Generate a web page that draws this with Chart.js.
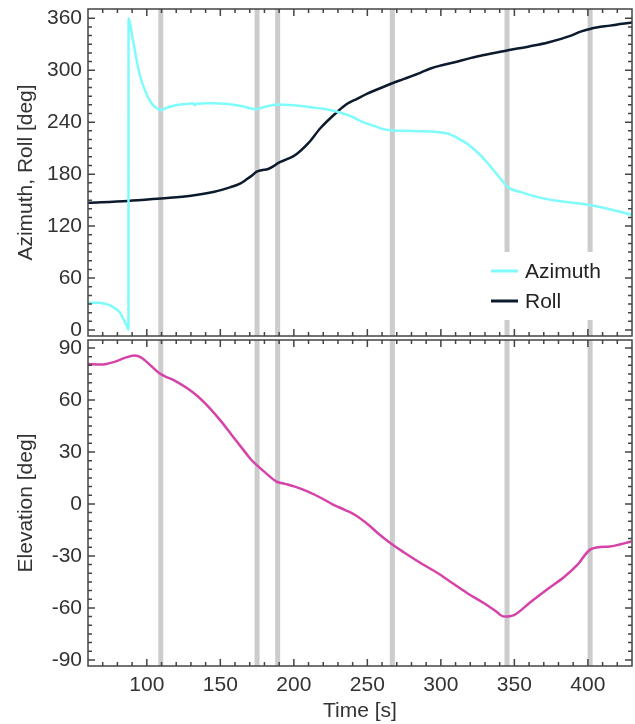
<!DOCTYPE html>
<html>
<head>
<title>Attitude</title>
<script src="https://cdn.jsdelivr.net/npm/chart.js"></script>
<style>
  body { margin: 0; background: #fff; }
  #wrap { position: relative; width: 635px; height: 724px; }
  canvas { position: absolute; left: 0; }
</style>
</head>
<body>
<div id="wrap">
  <canvas id="attChart" width="635" height="338" style="top:0;width:635px;height:338px"></canvas>
  <canvas id="elevChart" width="635" height="386" style="top:338px;width:635px;height:386px"></canvas>
</div>
<script>
// azimuth [deg] vs time [s]
const azTime = [60, 67, 71, 74.3, 77, 80, 82, 83.4, 85, 86.8, 87.5, 87.6, 90.2, 92.5, 94.7, 98.2, 102.7, 106, 109.5, 114,
  119.8, 126.6, 131.5, 132.6, 133.5, 137, 145, 155, 165, 173.7, 180, 188.7, 200, 213, 222, 229.6, 240, 247, 254, 261,
  267, 276, 286, 296, 304.6, 311, 318, 325, 332, 339, 345.6, 355, 366, 380, 392, 402, 415, 430];
const azimuth = [31.5, 31.5, 30.5, 29, 26.5, 23, 19.5, 15, 10, 3, 0.5, 360, 338, 317, 298, 279, 263, 257, 254, 257,
  259.6, 261, 262, 259.5, 261, 261.5, 262, 261, 258.5, 255, 257.5, 260.5, 259.5, 257, 255, 252, 246, 240, 236, 232,
  230.5, 230, 229.6, 229, 227, 222, 215, 205, 192.6, 178, 165, 159, 153.5, 149, 146.5, 144, 139.5, 133];

// roll [deg]
const rollTime = [60, 87, 109.5, 130, 146, 157, 163.4, 167, 172, 174.5, 178, 182.5, 186, 189.5, 195, 201, 210, 218,
  229.6, 236, 243, 250, 257, 262, 267, 275, 286, 293, 300, 308.7, 320, 332, 345.6, 360, 372.9, 388.5, 395, 402, 415, 430];
const roll = [147, 149, 152, 155, 159.6, 165, 169, 173, 179, 182.7, 184.5, 186, 189, 193, 197, 202, 216, 233,
  252, 261, 267, 273, 278, 281.5, 285, 290, 297, 302, 305.5, 309, 314, 318.5, 323, 327.5, 332, 340, 344.5, 348, 351.5, 355];

// elevation [deg]
const elTime = [60, 68.8, 78, 85, 91.6, 96, 103, 108.6, 112, 118.9, 127, 134.8, 142, 150.7, 158, 166.6, 171, 174.6,
  180, 188.2, 194, 200.7, 210, 218.9, 227, 234.9, 242, 250.7, 258, 265.8, 275, 287, 298, 306.7, 318, 329.4, 337, 343,
  350, 361.3, 372, 384, 393, 402.2, 415, 429.5];
const elevation = [80.8, 80.4, 82, 84.3, 85.6, 84.6, 79.6, 75.4, 73.8, 71.2, 67, 62, 56, 47.5, 39.5, 30.2, 25.5, 22.5,
  18.5, 12.9, 11.6, 10, 7, 3.3, -0.5, -3.5, -6.5, -12, -17.5, -22.7, -28, -34.5, -40, -45, -51.5, -57.3, -61.6, -65,
  -64, -56.4, -49.5, -42, -35, -26, -24.5, -21.7];

// manoeuvre marks (gray bars)
const eventTimes = [109.5, 175, 189, 267, 345, 401.5];

// axis ticks
const timeTicks = [100, 150, 200, 250, 300, 350, 400];
const angleTicks = [0, 60, 120, 180, 240, 300, 360];
const elevTicks = [-90, -60, -30, 0, 30, 60, 90];

const FONT = { family: 'Liberation Sans, Arial, sans-serif', size: 21 };
const TEXT = '#333';
const AZ_COLOR = '#80fbfb';
const ROLL_COLOR = '#0c1a2e';
const EL_COLOR = '#d543a8';

function pts(xs, ys) {
  return xs.map((x, i) => ({ x: x, y: ys[i] }));
}

function steps(from, to, step) {
  const out = [];
  for (let v = from; v <= to + 1e-9; v += step) out.push(v);
  return out;
}

// no extra room for labels at the ends, the frame sits where the padding says
function noPad(s) {
  s.paddingTop = 0;
  s.paddingBottom = 0;
  s.paddingLeft = 0;
  s.paddingRight = 0;
}

// gray bars under the lines, inward ticks + frame on top
const framePlugin = {
  id: 'frame',
  beforeDatasetsDraw(chart) {
    const { ctx, chartArea: a, scales: { x } } = chart;
    ctx.save();
    ctx.fillStyle = '#cccccc';
    eventTimes.forEach(t => {
      const px = x.getPixelForValue(t);
      ctx.fillRect(px - 2.5, a.top, 5, a.bottom - a.top);
    });
    ctx.restore();
  },
  afterDraw(chart, args, opts) {
    const { ctx, chartArea: a, scales: { x, y } } = chart;
    ctx.save();
    ctx.strokeStyle = '#444';
    ctx.lineWidth = 1.5;
    ctx.beginPath();
    const xMinor = steps(60, 430, 10);
    xMinor.forEach(v => {
      const len = timeTicks.includes(v) ? 7 : 4;
      const px = x.getPixelForValue(v);
      if (px <= a.left + 1 || px >= a.right - 1) return;
      ctx.moveTo(px, a.bottom); ctx.lineTo(px, a.bottom - len);
      ctx.moveTo(px, a.top); ctx.lineTo(px, a.top + len);
    });
    opts.yMinor.forEach(v => {
      const len = opts.yMajor.includes(v) ? 7 : 4;
      const py = y.getPixelForValue(v);
      if (py <= a.top + 1 || py >= a.bottom - 1) return;
      ctx.moveTo(a.left, py); ctx.lineTo(a.left + len, py);
      ctx.moveTo(a.right, py); ctx.lineTo(a.right - len, py);
    });
    ctx.stroke();
    ctx.strokeRect(a.left, a.top, a.right - a.left, a.bottom - a.top);
    ctx.restore();
  }
};

// legend box inside the upper panel
const boxLegend = {
  id: 'boxLegend',
  afterDatasetsDraw(chart) {
    const ctx = chart.ctx;
    const a = chart.chartArea;
    const bx = a.right - 146, by = 252;
    ctx.save();
    ctx.fillStyle = '#fff';
    ctx.fillRect(bx, by, 140, 68);
    ctx.font = FONT.size + 'px ' + FONT.family;
    ctx.textBaseline = 'middle';
    chart.data.datasets.forEach((ds, i) => {
      const ly = by + 19 + i * 30;
      ctx.strokeStyle = ds.borderColor;
      ctx.lineWidth = 3;
      ctx.beginPath();
      ctx.moveTo(bx + 5, ly);
      ctx.lineTo(bx + 32, ly);
      ctx.stroke();
      ctx.fillStyle = '#222';
      ctx.fillText(ds.label, bx + 39, ly + 1);
    });
    ctx.restore();
  }
};

function yAxis(min, max, ticks, title) {
  return {
    type: 'linear',
    min: min,
    max: max,
    afterBuildTicks: s => { s.ticks = ticks.map(v => ({ value: v })); },
    afterFit: s => { s.width = 88; noPad(s); },
    grid: { display: false, drawTicks: false },
    border: { display: false },
    ticks: { color: TEXT, font: FONT, padding: 6 },
    title: { display: true, text: title, color: TEXT, font: FONT, padding: { top: 14, bottom: 0 } }
  };
}

const lineStyle = { borderWidth: 2.5, pointRadius: 0, fill: false, cubicInterpolationMode: 'monotone' };

new Chart(document.getElementById('attChart'), {
  type: 'line',
  data: {
    datasets: [
      Object.assign({ label: 'Azimuth', data: pts(azTime, azimuth), borderColor: AZ_COLOR }, lineStyle),
      Object.assign({ label: 'Roll', data: pts(rollTime, roll), borderColor: ROLL_COLOR }, lineStyle)
    ]
  },
  options: {
    responsive: false,
    animation: false,
    devicePixelRatio: 1,
    layout: { padding: { top: 9, right: 3, bottom: 2, left: 0 } },
    scales: {
      x: { type: 'linear', min: 60, max: 430, display: false },
      y: yAxis(-6.9, 370.7, angleTicks, 'Azimuth, Roll [deg]')
    },
    plugins: {
      legend: { display: false },
      tooltip: { enabled: false },
      frame: { yMajor: angleTicks, yMinor: steps(0, 370, 10) }
    }
  },
  plugins: [framePlugin, boxLegend]
});

new Chart(document.getElementById('elevChart'), {
  type: 'line',
  data: {
    datasets: [
      Object.assign({ label: 'Elevation', data: pts(elTime, elevation), borderColor: EL_COLOR }, lineStyle)
    ]
  },
  options: {
    responsive: false,
    animation: false,
    devicePixelRatio: 1,
    layout: { padding: { top: 2, right: 3, bottom: 0, left: 0 } },
    scales: {
      x: {
        type: 'linear',
        min: 60,
        max: 430,
        afterBuildTicks: s => { s.ticks = timeTicks.map(v => ({ value: v })); },
        afterFit: s => { s.height = 58; noPad(s); },
        grid: { display: false, drawTicks: false },
        border: { display: false },
        ticks: { color: TEXT, font: FONT, padding: 7, maxRotation: 0 },
        title: { display: true, text: 'Time [s]', color: TEXT, font: FONT, padding: { top: 0, bottom: 0 } }
      },
      y: yAxis(-93.5, 94.6, elevTicks, 'Elevation [deg]')
    },
    plugins: {
      legend: { display: false },
      tooltip: { enabled: false },
      frame: { yMajor: elevTicks, yMinor: steps(-90, 90, 5) }
    }
  },
  plugins: [framePlugin]
});
</script>
</body>
</html>
